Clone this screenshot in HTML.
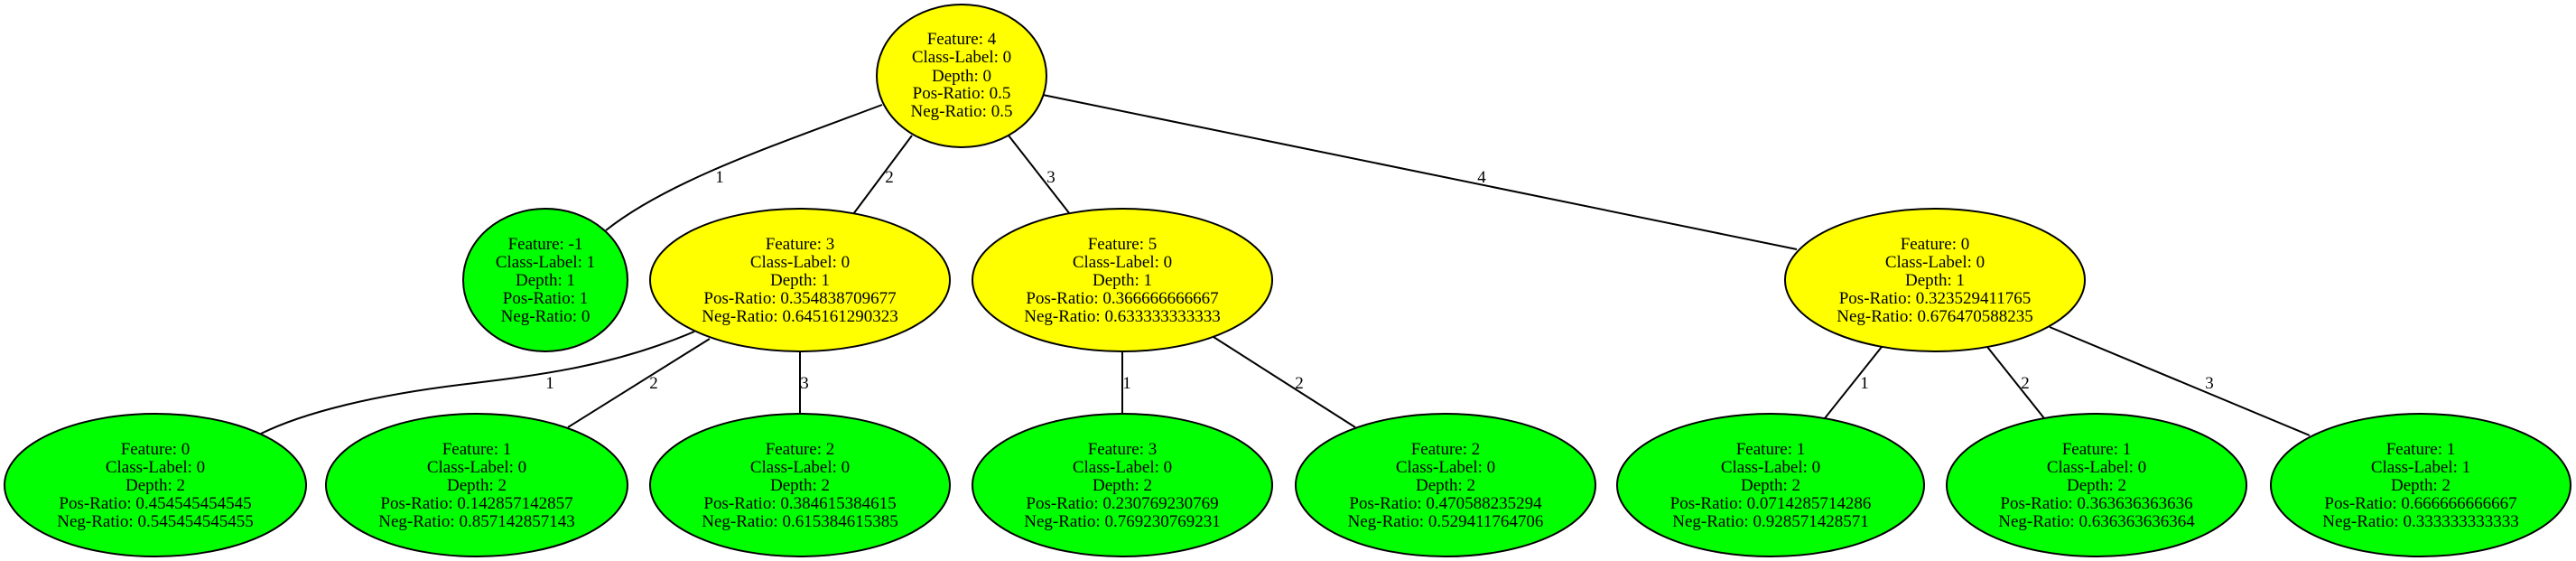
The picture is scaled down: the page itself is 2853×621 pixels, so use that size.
<!DOCTYPE html>
<html><head><meta charset="utf-8"><style>
html,body{margin:0;padding:0;background:#fff;}
svg{display:block;}
text{font-family:"Liberation Serif",serif;font-size:19px;fill:#000;}
</style></head><body>
<svg width="2853" height="621" viewBox="0 0 2853 621" xmlns="http://www.w3.org/2000/svg">
<g fill="none" stroke="#000" stroke-width="2">
<path d="M977,116 C860,160 740,200 671,255"/>
<path d="M1010,150 L945,237"/>
<path d="M1117,150 L1185,237"/>
<path d="M1155,105 L1990,276"/>
<path d="M769,367 C680,405 600,415 509,426 C420,437 340,455 289,480"/>
<path d="M786,375 L629,473"/>
<path d="M886,389 L886,458"/>
<path d="M1243,389 L1243,458"/>
<path d="M1344,373 L1501,473"/>
<path d="M2084,384 L2021,463"/>
<path d="M2201,384 L2264,463"/>
<path d="M2270,362 L2558,482"/>
</g>
<g text-anchor="middle">
<text x="797" y="202">1</text>
<text x="985" y="202">2</text>
<text x="1164" y="202">3</text>
<text x="1641" y="202">4</text>
<text x="609" y="430">1</text>
<text x="724" y="430">2</text>
<text x="891" y="430">3</text>
<text x="1248" y="430">1</text>
<text x="1439" y="430">2</text>
<text x="2065" y="430">1</text>
<text x="2243" y="430">2</text>
<text x="2447" y="430">3</text>
</g>
<g stroke="#000" stroke-width="2">
<ellipse cx="1065" cy="84" rx="94" ry="79" fill="#ffff00"/>
<ellipse cx="604" cy="310" rx="91" ry="79" fill="#00ff00"/>
<ellipse cx="886" cy="310" rx="166" ry="79" fill="#ffff00"/>
<ellipse cx="1243" cy="310" rx="166" ry="79" fill="#ffff00"/>
<ellipse cx="2143" cy="310" rx="166" ry="79" fill="#ffff00"/>
<ellipse cx="172" cy="537" rx="167" ry="79" fill="#00ff00"/>
<ellipse cx="528" cy="537" rx="167" ry="79" fill="#00ff00"/>
<ellipse cx="886" cy="537" rx="166" ry="79" fill="#00ff00"/>
<ellipse cx="1243" cy="537" rx="166" ry="79" fill="#00ff00"/>
<ellipse cx="1601" cy="537" rx="166" ry="79" fill="#00ff00"/>
<ellipse cx="1961" cy="537" rx="170" ry="79" fill="#00ff00"/>
<ellipse cx="2322" cy="537" rx="166" ry="79" fill="#00ff00"/>
<ellipse cx="2681" cy="537" rx="166" ry="79" fill="#00ff00"/>
</g>
<g text-anchor="middle">
<text x="1065" y="49">Feature: 4</text><text x="1065" y="69">Class-Label: 0</text><text x="1065" y="90">Depth: 0</text><text x="1065" y="109">Pos-Ratio: 0.5</text><text x="1065" y="129">Neg-Ratio: 0.5</text>

<text x="604" y="276">Feature: -1</text><text x="604" y="296">Class-Label: 1</text><text x="604" y="316">Depth: 1</text><text x="604" y="336">Pos-Ratio: 1</text><text x="604" y="356">Neg-Ratio: 0</text>

<text x="886" y="276">Feature: 3</text><text x="886" y="296">Class-Label: 0</text><text x="886" y="316">Depth: 1</text><text x="886" y="336">Pos-Ratio: 0.354838709677</text><text x="886" y="356">Neg-Ratio: 0.645161290323</text>

<text x="1243" y="276">Feature: 5</text><text x="1243" y="296">Class-Label: 0</text><text x="1243" y="316">Depth: 1</text><text x="1243" y="336">Pos-Ratio: 0.366666666667</text><text x="1243" y="356">Neg-Ratio: 0.633333333333</text>

<text x="2143" y="276">Feature: 0</text><text x="2143" y="296">Class-Label: 0</text><text x="2143" y="316">Depth: 1</text><text x="2143" y="336">Pos-Ratio: 0.323529411765</text><text x="2143" y="356">Neg-Ratio: 0.676470588235</text>

<text x="172" y="503">Feature: 0</text><text x="172" y="523">Class-Label: 0</text><text x="172" y="543">Depth: 2</text><text x="172" y="563">Pos-Ratio: 0.454545454545</text><text x="172" y="583">Neg-Ratio: 0.545454545455</text>

<text x="528" y="503">Feature: 1</text><text x="528" y="523">Class-Label: 0</text><text x="528" y="543">Depth: 2</text><text x="528" y="563">Pos-Ratio: 0.142857142857</text><text x="528" y="583">Neg-Ratio: 0.857142857143</text>

<text x="886" y="503">Feature: 2</text><text x="886" y="523">Class-Label: 0</text><text x="886" y="543">Depth: 2</text><text x="886" y="563">Pos-Ratio: 0.384615384615</text><text x="886" y="583">Neg-Ratio: 0.615384615385</text>

<text x="1243" y="503">Feature: 3</text><text x="1243" y="523">Class-Label: 0</text><text x="1243" y="543">Depth: 2</text><text x="1243" y="563">Pos-Ratio: 0.230769230769</text><text x="1243" y="583">Neg-Ratio: 0.769230769231</text>

<text x="1601" y="503">Feature: 2</text><text x="1601" y="523">Class-Label: 0</text><text x="1601" y="543">Depth: 2</text><text x="1601" y="563">Pos-Ratio: 0.470588235294</text><text x="1601" y="583">Neg-Ratio: 0.529411764706</text>

<text x="1961" y="503">Feature: 1</text><text x="1961" y="523">Class-Label: 0</text><text x="1961" y="543">Depth: 2</text><text x="1961" y="563">Pos-Ratio: 0.0714285714286</text><text x="1961" y="583">Neg-Ratio: 0.928571428571</text>

<text x="2322" y="503">Feature: 1</text><text x="2322" y="523">Class-Label: 0</text><text x="2322" y="543">Depth: 2</text><text x="2322" y="563">Pos-Ratio: 0.363636363636</text><text x="2322" y="583">Neg-Ratio: 0.636363636364</text>

<text x="2681" y="503">Feature: 1</text><text x="2681" y="523">Class-Label: 1</text><text x="2681" y="543">Depth: 2</text><text x="2681" y="563">Pos-Ratio: 0.666666666667</text><text x="2681" y="583">Neg-Ratio: 0.333333333333</text>
</g>
</svg>
</body></html>
